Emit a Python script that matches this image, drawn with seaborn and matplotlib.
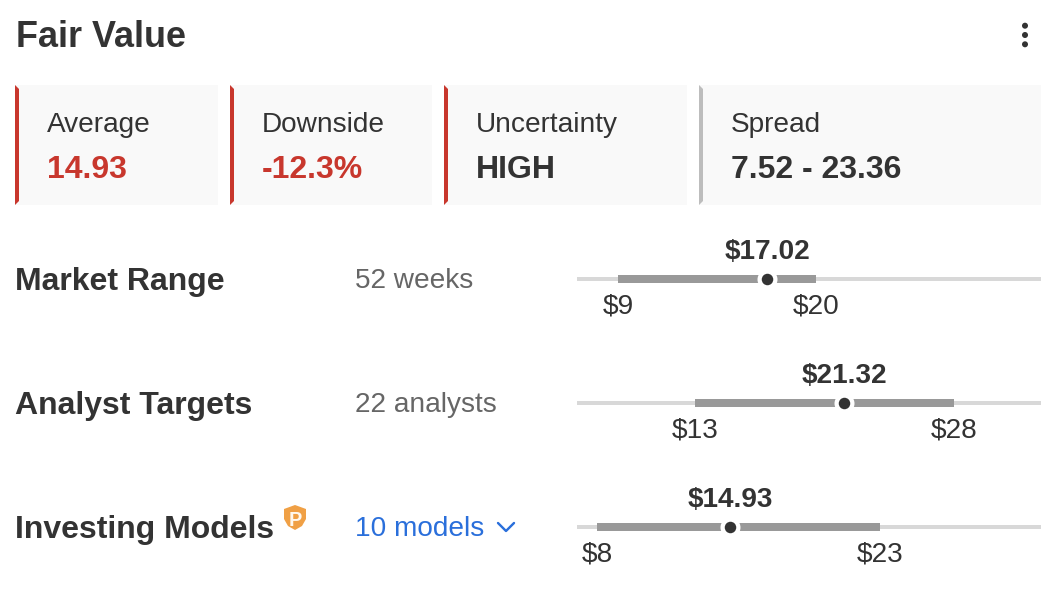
import matplotlib
matplotlib.use("Agg")
import matplotlib.pyplot as plt
from matplotlib.patches import Rectangle, Polygon
import pandas as pd
import seaborn as sns

sns.set_theme(style="white")
plt.rcParams["font.family"] = ["Liberation Sans", "DejaVu Sans"]

# ---- data ----
title = "Fair Value"
card_labels = ["Average", "Downside", "Uncertainty", "Spread"]
card_values = ["14.93", "-12.3%", "HIGH", "7.52 - 23.36"]
rows = ["Market Range", "Analyst Targets", "Investing Models"]
row_notes = ["52 weeks", "22 analysts", "10 models"]
lows = [8.67, 12.99, 7.52]
highs = [19.77, 27.50, 23.36]
means = [17.02, 21.32, 14.93]
low_labels = ["$9", "$13", "$8"]
high_labels = ["$20", "$28", "$23"]
mean_labels = ["$17.02", "$21.32", "$14.93"]
scale_min, scale_max = 6.38, 32.37

# ---- colours ----
INK = "#333333"
MUTED = "#666666"
RED = "#c8372d"
BLUE = "#2a6fdb"
W, H = 1056, 598
px = 72 / 100  # points per pixel at dpi 100

fig = plt.figure(figsize=(W / 100, H / 100), dpi=100, facecolor="white")

# page layer in pixel units
page = fig.add_axes([0, 0, 1, 1])
page.set_xlim(0, W)
page.set_ylim(H, 0)
page.axis("off")

page.text(16, 47, title, fontsize=36 * px, fontweight="bold", color=INK, va="baseline")
for cy in (25.7, 35, 44.3):
    page.add_patch(plt.Circle((1025, cy), 3, color=INK, lw=0))

card_edges = [(15, 218), (230, 432), (444, 687), (699, 1041)]
card_bars = [RED, RED, RED, "#bdbdbd"]
card_colors = [RED, RED, INK, INK]
for (x0, x1), lab, val, bar, col in zip(card_edges, card_labels, card_values, card_bars, card_colors):
    page.add_patch(Rectangle((x0, 85), x1 - x0, 120, fc="#f9f9f9", ec="none"))
    page.add_patch(Polygon([(x0, 85), (x0 + 4, 89), (x0 + 4, 201), (x0, 205)], fc=bar, ec="none"))
    page.text(x0 + 32, 132, lab, fontsize=28 * px, color=INK, va="baseline")
    page.text(x0 + 32, 178, val, fontsize=32 * px, fontweight="bold", color=col, va="baseline")

row_y = [279, 403, 527]
for y, name, note, col in zip(row_y, rows, row_notes, [MUTED, MUTED, BLUE]):
    page.text(15, y + 11, name, fontsize=32 * px, fontweight="bold", color=INK, va="baseline")
    page.text(355, y + 9, note, fontsize=28 * px, color=col, va="baseline")

# chevron after "10 models"
page.plot([498, 506, 514], [523, 531, 523], color=BLUE, lw=2 * px * 1.2, solid_capstyle="round")

# premium shield badge
page.add_patch(Polygon([(284, 509), (295, 505), (306, 509), (306, 519), (302, 526),
                        (295, 530), (288, 526), (284, 519)], fc="#f0a045", ec="none"))
page.text(295.5, 526, "P", fontsize=20 * px, fontweight="bold", color="#fff8ee",
          ha="center", va="baseline")

# footer hairline
page.plot([0, W], [597.5, 597.5], color="#f0f0f0", lw=1 * px)

# ranges: a real data axis in dollars, three category bands of 124 px
ax = fig.add_axes([577 / W, 1 - 589 / H, (1041 - 577) / W, (589 - 217) / H])
ax.patch.set_alpha(0)
df = pd.DataFrame({"row": rows, "low": lows, "high": highs, "mean": means})
df["span"] = df["high"] - df["low"]
df["track"] = scale_max - scale_min

band = 124
sns.barplot(data=df, x="track", y="row", left=scale_min, color="#d8d8d8",
            width=4 / band, saturation=1, linewidth=0, ax=ax, zorder=1)
sns.barplot(data=df, x="span", y="row", left=df["low"], color="#999999",
            width=8 / band, saturation=1, linewidth=0, ax=ax, zorder=2)
# white halo, then the mean dot
sns.scatterplot(data=df, x="mean", y="row", s=(20 * px) ** 2, color="white",
                linewidth=0, marker="o", ax=ax, zorder=3, legend=False)
sns.scatterplot(data=df, x="mean", y="row", s=(11.5 * px) ** 2, color=INK,
                linewidth=0, marker="o", ax=ax, zorder=4, legend=False)

ax.set_xlim(scale_min, scale_max)
ax.set_ylim(2.5, -0.5)
ax.axis("off")

for i in range(len(rows)):
    ax.annotate(mean_labels[i], (means[i], i), xytext=(0.7 * px, 20 * px), textcoords="offset points",
                ha="center", va="baseline", fontsize=28 * px, fontweight="bold", color=INK)
    ax.annotate(low_labels[i], (lows[i], i), xytext=(0, -35 * px), textcoords="offset points",
                ha="center", va="baseline", fontsize=28 * px, color=INK)
    ax.annotate(high_labels[i], (highs[i], i), xytext=(0, -35 * px), textcoords="offset points",
                ha="center", va="baseline", fontsize=28 * px, color=INK)

fig.savefig("out.png", dpi=100, facecolor="white")
